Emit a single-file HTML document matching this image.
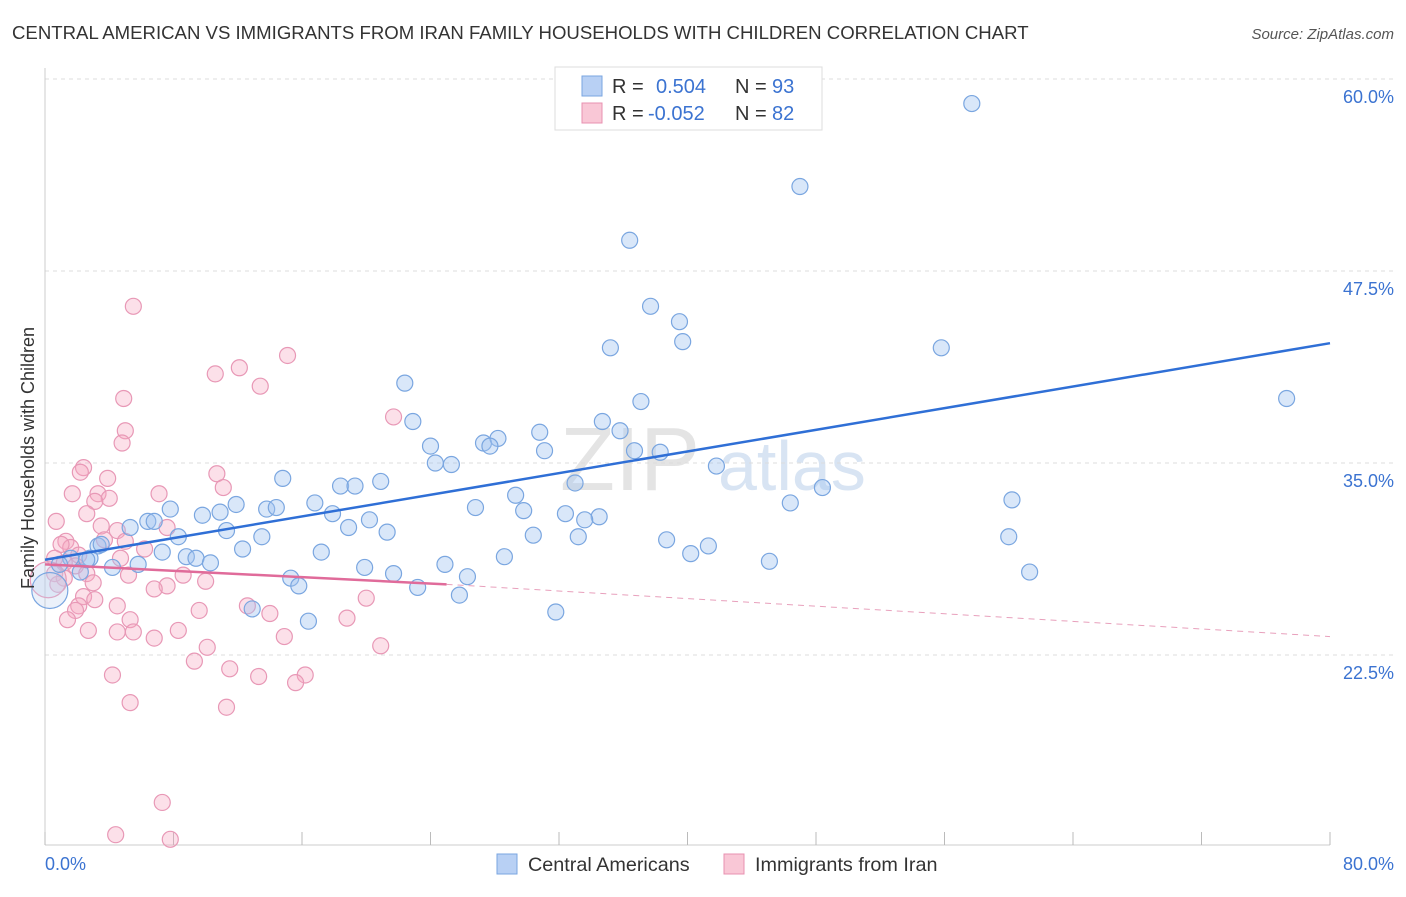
<!DOCTYPE html>
<html><head><meta charset="utf-8">
<style>
body{margin:0;background:#fff;font-family:"Liberation Sans",sans-serif;}
svg text{font-family:"Liberation Sans",sans-serif;}
</style></head>
<body>
<svg id="chart" width="1406" height="892" xmlns="http://www.w3.org/2000/svg">
<text x="12" y="39" font-size="18.6" fill="#333">CENTRAL AMERICAN VS IMMIGRANTS FROM IRAN FAMILY HOUSEHOLDS WITH CHILDREN CORRELATION CHART</text>
<text x="1394" y="39" font-size="15" fill="#555" text-anchor="end" font-style="italic">Source: ZipAtlas.com</text>
<text x="560" y="490" font-size="90" fill="#e4e4e4" font-family="Liberation Serif">ZIP</text>
<text x="718" y="490" font-size="70" fill="#d8e4f3">atlas</text>
<g id="grid"></g>
<g id="axes"></g>
<g id="pts"></g>
<g id="trends"></g>
<text transform="translate(34,458) rotate(-90)" font-size="18" fill="#333" text-anchor="middle">Family Households with Children</text>
<text x="45" y="870" font-size="18" fill="#3b73d1">0.0%</text>
<text x="1394" y="870" font-size="18" fill="#3b73d1" text-anchor="end">80.0%</text>
<g>
<rect x="555" y="67" width="267" height="63" fill="#fff" stroke="#ddd"/>
<rect x="582" y="76" width="20" height="20" fill="#b8d0f4" stroke="#7aa6e0"/>
<rect x="582" y="103" width="20" height="20" fill="#f9c7d6" stroke="#e890b0"/>
<text x="612" y="93" font-size="20" fill="#333">R = <tspan x="656" fill="#3b73d1">0.504</tspan><tspan x="735">N = </tspan><tspan x="772" fill="#3b73d1">93</tspan></text>
<text x="612" y="120" font-size="20" fill="#333">R = <tspan x="648" fill="#3b73d1">-0.052</tspan><tspan x="735">N = </tspan><tspan x="772" fill="#3b73d1">82</tspan></text>
</g>
<g>
<rect x="497" y="854" width="20" height="20" fill="#b8d0f4" stroke="#7aa6e0"/>
<text x="528" y="871" font-size="19.8" fill="#333">Central Americans</text>
<rect x="724" y="854" width="20" height="20" fill="#f9c7d6" stroke="#e890b0"/>
<text x="755" y="871" font-size="19.8" fill="#333">Immigrants from Iran</text>
</g>
</svg>
<script>
const yTicks=[22.5,35.0,47.5,60.0];
const yTickLabels=["22.5%","35.0%","47.5%","60.0%"];
const xTicks=[0,8,16,24,32,40,48,56,64,72,80];
const blueX=[57.7,47.0,36.4,37.7,39.5,39.7,35.2,55.8,22.4,37.1,77.3,22.9,34.7,35.8,30.8,24.0,27.3,28.2,27.7,31.1,36.7,38.3,24.3,25.3,41.8,14.8,20.9,18.4,19.3,33.0,48.4,29.3,46.4,60.2,11.9,7.8,16.8,13.8,14.4,10.9,9.8,17.9,26.8,29.8,32.4,34.5,33.6,20.2,6.4,6.8,5.3,11.3,18.9,21.3,8.3,13.5,30.4,33.2,60.0,38.7,41.3,3.3,12.3,7.3,17.2,40.2,28.6,8.8,9.4,2.8,10.3,45.1,5.8,4.2,24.9,19.9,21.7,61.3,15.3,26.3,15.8,23.2,25.8,12.9,31.8,16.4,1.6,2.2,0.9,0.3,3.5,2.6];
const blueY=[58.4,53.0,49.5,45.2,44.2,42.9,42.5,42.5,40.2,39.0,39.2,37.7,37.7,37.1,37.0,36.1,36.3,36.6,36.1,35.8,35.8,35.7,35.0,34.9,34.8,34.0,33.8,33.5,33.5,33.7,33.4,32.9,32.4,32.6,32.3,32.0,32.4,32.0,32.1,31.8,31.6,31.7,32.1,31.9,31.7,31.5,31.3,31.3,31.2,31.2,30.8,30.6,30.8,30.5,30.2,30.2,30.3,30.2,30.2,30.0,29.6,29.6,29.4,29.2,29.2,29.1,28.9,28.9,28.8,28.8,28.5,28.6,28.4,28.2,28.4,28.2,27.8,27.9,27.5,27.6,27.0,26.9,26.4,25.5,25.3,24.7,28.8,27.9,28.4,26.7,29.7,28.7];
const pinkX=[5.5,15.1,12.1,10.6,13.4,4.9,21.7,5.0,4.8,2.4,2.2,10.7,3.9,11.1,1.7,3.3,7.1,4.0,3.1,2.6,0.7,3.5,7.6,4.5,3.7,5.0,1.3,1.6,1.0,6.2,2.1,0.6,4.7,1.2,1.9,0.6,2.6,5.2,8.6,1.2,10.0,3.0,7.6,6.8,0.8,2.4,20.0,3.1,4.5,2.1,12.6,1.9,9.6,14.0,18.8,1.4,5.3,2.7,4.5,5.5,8.3,14.9,6.8,10.1,20.9,9.3,11.5,4.2,13.3,16.2,15.6,5.3,11.3,7.3,4.4,7.8,0.2];
const pinkY=[45.2,42.0,41.2,40.8,40.0,39.2,38.0,37.1,36.3,34.7,34.4,34.3,34.0,33.4,33.0,33.0,33.0,32.7,32.5,31.7,31.2,30.9,30.8,30.6,30.0,29.9,29.9,29.5,29.7,29.4,29.0,28.8,28.8,28.5,28.3,27.8,27.8,27.7,27.7,27.5,27.3,27.2,27.0,26.8,27.1,26.3,26.2,26.1,25.7,25.7,25.7,25.4,25.4,25.2,24.9,24.8,24.8,24.1,24.0,24.0,24.1,23.7,23.6,23.0,23.1,22.1,21.6,21.2,21.1,21.2,20.7,19.4,19.1,12.9,10.8,10.5,27.4];
const blueTrend=[[0,28.7],[80,42.8]];
const pinkTrendSolid=[[0,28.4],[25,27.1]];
const pinkTrendDash=[[25,27.1],[80,23.7]];
const X=v=>45+v/80*1285;
const Y=v=>79+(60-v)*15.36;
const NS="http://www.w3.org/2000/svg";
function mk(tag,attrs,parent){const e=document.createElementNS(NS,tag);for(const k in attrs)e.setAttribute(k,attrs[k]);parent.appendChild(e);return e;}
const grid=document.getElementById('grid'),axes=document.getElementById('axes'),pts=document.getElementById('pts'),tr=document.getElementById('trends');
yTicks.forEach((t,i)=>{
 const l=mk('line',{x1:45,x2:1394,y1:Y(t),y2:Y(t),stroke:'#ddd','stroke-dasharray':'4,4'},grid);
 
 
 const tx=mk('text',{x:1394,y:Y(t)+24,'font-size':18,fill:'#3b73d1','text-anchor':'end'},grid);
 tx.textContent=yTickLabels[i];
 
 
});
const ya=mk('line',{x1:45,x2:45,y1:68,y2:845,stroke:'#ccc'},axes);


const xa=mk('line',{x1:45,x2:1330,y1:845,y2:845,stroke:'#ccc'},axes);


xTicks.forEach(t=>{
 const l=mk('line',{x1:X(t),x2:X(t),y1:832,y2:845,stroke:'#bbb'},axes);
 
 
});
function dots(xs,ys,fill,stroke,name){
 xs.forEach((x,i)=>{
  const big=(x<0.5);
  const c=mk('circle',{cx:X(x),cy:Y(ys[i]),r:big?18:8,fill:big?'rgba(190,210,240,0.3)':fill,stroke:stroke,'stroke-width':1.2},pts);
  
  
 });
}
dots(pinkX,pinkY,'rgba(245,165,192,0.35)','#e898b6','iran-point');
dots(blueX,blueY,'rgba(160,195,240,0.4)','#7aa6e0','central-american-point');
function line(p,stroke,w,dash,name){
 const l=mk('line',{x1:X(p[0][0]),y1:Y(p[0][1]),x2:X(p[1][0]),y2:Y(p[1][1]),stroke:stroke,'stroke-width':w},tr);
 if(dash)l.setAttribute('stroke-dasharray',dash);
 
 
}
line(blueTrend,'#2f6fd6',2.5,null,'central-american-trendline');
line(pinkTrendSolid,'#e06b9a',2.5,null,'iran-trendline');
line(pinkTrendDash,'#e8a0bc',1,'6,5','iran-trendline-extension');
</script>
</body></html>
